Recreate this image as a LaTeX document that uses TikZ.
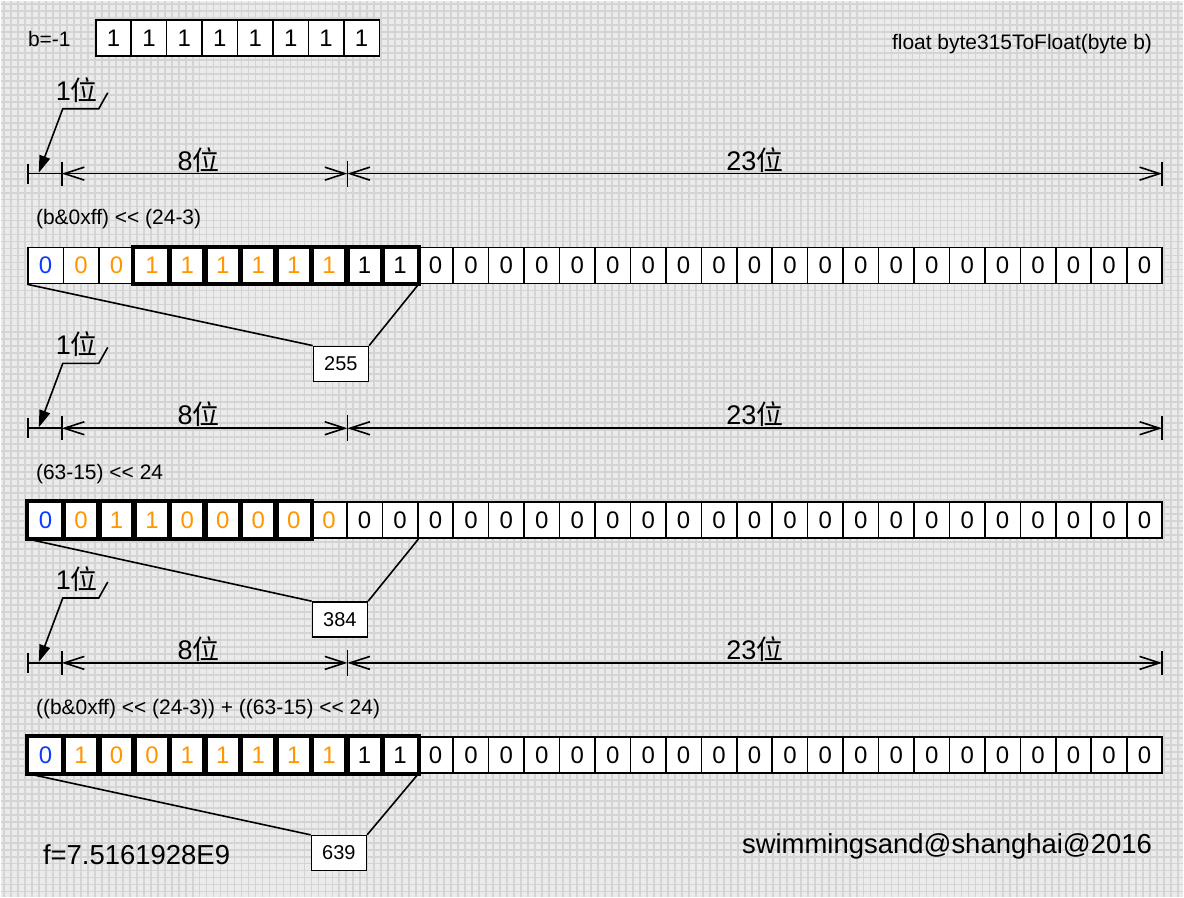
\documentclass[tikz,border=0pt]{standalone}
\usepackage{fontspec}
\setmainfont{Liberation Sans}
\newfontfamily\cjk{Noto Sans CJK SC}
\usepackage{xcolor}
\usetikzlibrary{arrows.meta, calc}
\definecolor{gridbg}{RGB}{235,235,235}
\definecolor{gridln}{RGB}{212,212,212}
\definecolor{bitblue}{RGB}{10,60,255}
\definecolor{bitorange}{RGB}{255,150,0}

\begin{document}
\begin{tikzpicture}[
        x=1pt, y=-1pt,
        >={Straight Barb[length=20pt,width=13pt]},
        bit/.style={draw, fill=white, line width=1.6pt, minimum width=35.5pt, minimum height=36pt, inner sep=0pt, font=\fontsize{24}{24}\selectfont},
        grp/.style={line width=4pt},
        small/.style={inner sep=0pt, font=\fontsize{21}{21}\selectfont},
        big/.style={inner sep=0pt, font=\fontsize{27}{27}\selectfont},
        large/.style={inner sep=0pt, font=\fontsize{27.5}{27.5}\selectfont},
        callout/.style={draw, fill=white, line width=1.6pt, minimum width=55pt, minimum height=35pt, inner sep=0pt, font=\fontsize{20}{20}\selectfont},
        leader/.style={line width=1.6pt, -{Triangle[length=17pt,width=11pt]}},
        dim/.style={line width=1.6pt}
    ]
        \def\cellw{35.5}
        \def\xo{27}

        \fill[gridbg] (0,0) rectangle (1184,897);
        \foreach \x in {3,10,...,1184}
            \draw[gridln, line width=1.8pt] (\x,0) -- (\x,897);
        \foreach \y in {3,10,...,897}
            \draw[gridln, line width=1.8pt] (0,\y) -- (1184,\y);
        \useasboundingbox (0,0) rectangle (1184,897);

        \node[small, anchor=west] (bval) at (27,38) {b=-1};
        \foreach \i in {0,...,7}
            \node[bit] (b\i) at ({95+\cellw*(\i+0.5)}, 37) {1};
        \node[small, anchor=east] (title) at (1153,43) {float byte315ToFloat(byte b)};

        \foreach \dy [count=\k] in {0,255,490} {
            \coordinate (s\k) at (27,173+\dy);
            \coordinate (e\k) at (61,173+\dy);
            \coordinate (m\k) at (347,173+\dy);
            \coordinate (z\k) at (1163,173+\dy);
            \draw[dim] (s\k) -- (e\k);
            \draw[dim, <->] (e\k) -- (m\k);
            \draw[dim, <->] (m\k) -- (z\k);
            \foreach \p/\h in {s/10, e/12, m/13, z/12}
                \draw[dim] ($(\p\k)+(0,-\h)$) -- ($(\p\k)+(0,\h)$);
            \node[big] (one\k) at (76,89+\dy) {1{\cjk 位}};
            \node[big] (eight\k) at (198,159+\dy) {8{\cjk 位}};
            \node[big] (rest\k) at (755,159+\dy) {23{\cjk 位}};
            \coordinate (l\k) at (107,92+\dy);
            \coordinate (tip\k) at (38,172+\dy);
            \draw[leader] (l\k) -- ++(-9,16) -- (62,108+\dy) -- (tip\k);
        }

        % (b&0xff) << (24-3)
        \node[small, anchor=west] (exprp) at (35,219) {(b\&0xff) <\kern0pt< (24-3)};
        \foreach \c/\d [count=\i from 0] in {bitblue/0,bitorange/0,bitorange/0,bitorange/1,bitorange/1,bitorange/1,bitorange/1,bitorange/1,bitorange/1,black/1,black/1}
            \node[bit, text=\c] (p\i) at ({\xo+\cellw*(\i+0.5)}, 265) {\d};
        \foreach \i in {11,...,31}
            \node[bit] (p\i) at ({\xo+\cellw*(\i+0.5)}, 265) {0};
        \foreach \i in {3,...,10}
            \draw[grp] (p\i.north west) rectangle (p\i.south east);
        \node[callout] (vp) at (340.5,363.5) {255};
        \draw[dim] (p0.south west) -- (vp.north west);
        \draw[dim] (p10.south east) -- (vp.north east);

        % (63-15) << 24
        \node[small, anchor=west] (exprq) at (35,474) {(63-15) <\kern0pt< 24};
        \foreach \c/\d [count=\i from 0] in {bitblue/0,bitorange/0,bitorange/1,bitorange/1,bitorange/0,bitorange/0,bitorange/0,bitorange/0,bitorange/0}
            \node[bit, text=\c] (q\i) at ({\xo+\cellw*(\i+0.5)}, 520) {\d};
        \foreach \i in {9,...,31}
            \node[bit] (q\i) at ({\xo+\cellw*(\i+0.5)}, 520) {0};
        \foreach \i in {0,...,7}
            \draw[grp] (q\i.north west) rectangle (q\i.south east);
        \node[callout] (vq) at (339.5,619.5) {384};
        \draw[dim] (q0.south west) -- (vq.north west);
        \draw[dim] (q10.south east) -- (vq.north east);

        % sum
        \node[small, anchor=west] (exprs) at (35,709) {((b\&0xff) <\kern0pt< (24-3)) + ((63-15) <\kern0pt< 24)};
        \foreach \c/\d [count=\i from 0] in {bitblue/0,bitorange/1,bitorange/0,bitorange/0,bitorange/1,bitorange/1,bitorange/1,bitorange/1,bitorange/1,black/1,black/1}
            \node[bit, text=\c] (r\i) at ({\xo+\cellw*(\i+0.5)}, 755) {\d};
        \foreach \i in {11,...,31}
            \node[bit] (r\i) at ({\xo+\cellw*(\i+0.5)}, 755) {0};
        \foreach \i in {0,...,10}
            \draw[grp] (r\i.north west) rectangle (r\i.south east);
        \node[callout] (vr) at (338.5,853.5) {639};
        \draw[dim] (r0.south west) -- (vr.north west);
        \draw[dim] (r10.south east) -- (vr.north east);

        \node[large, anchor=west] (fval) at (42,855) {f=7.5161928E9};
        \node[large, anchor=east] (sign) at (1153,847) {swimmingsand@shanghai@2016};
    \end{tikzpicture}
\end{document}
